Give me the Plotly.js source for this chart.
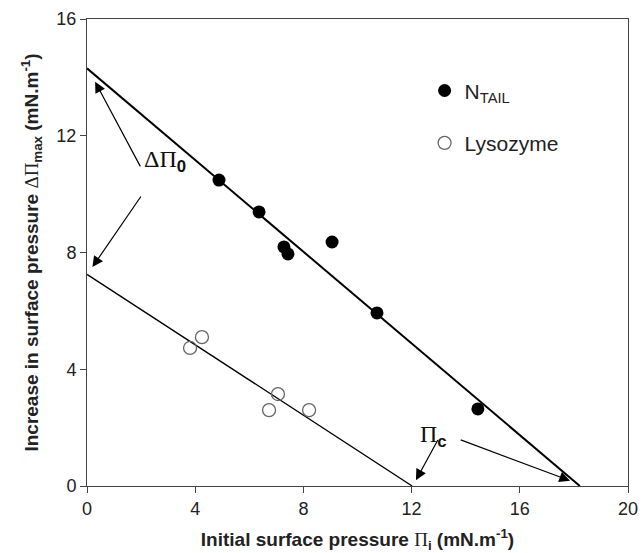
<!DOCTYPE html>
<html><head><meta charset="utf-8">
<script src="https://cdn.plot.ly/plotly-3.0.1.min.js"></script>
<style>body{margin:0;background:#fff}#c{width:642px;height:553px}</style>
</head><body><div id="c"></div>
<script>
// N_TAIL data
const ntailX = [4.88, 6.36, 7.28, 7.43, 9.06, 10.72, 14.45];
const ntailY = [10.48, 9.39, 8.19, 7.95, 8.36, 5.93, 2.64];
// Lysozyme data
const lysoX = [3.81, 4.25, 7.06, 6.73, 8.21];
const lysoY = [4.73, 5.10, 3.15, 2.60, 2.60];
// Fitted lines (endpoints: intercepts)
const ntailFitX = [0, 18.22];
const ntailFitY = [14.31, 0];
const lysoFitX = [0, 12.02];
const lysoFitY = [7.25, 0];
const xTicks = [0, 4, 8, 12, 16, 20];
const yTicks = [0, 4, 8, 12, 16];

const serif = 'Liberation Serif, Times New Roman, serif';
const sans = 'Liberation Sans, Arial, sans-serif';

const traces = [
  {x: ntailFitX, y: ntailFitY, mode: 'lines', line: {color: '#000', width: 2}, showlegend: false, hoverinfo: 'skip'},
  {x: lysoFitX, y: lysoFitY, mode: 'lines', line: {color: '#000', width: 1.3}, showlegend: false, hoverinfo: 'skip'},
  {x: ntailX, y: ntailY, mode: 'markers', name: 'N<sub>TAIL</sub>', legendgroup: 'a',
   marker: {symbol: 'circle', size: 13, color: '#000', line: {color: '#000', width: 0}}},
  {x: lysoX, y: lysoY, mode: 'markers', name: 'Lysozyme', legendgroup: 'b',
   marker: {symbol: 'circle-open', size: 13, color: '#666', line: {color: '#666', width: 1.3}}}
];

function arrow(x, y, ax, ay) {
  return {x: x, y: y, ax: ax, ay: ay, xref: 'x', yref: 'y', axref: 'x', ayref: 'y',
    showarrow: true, arrowhead: 2, arrowsize: 1.8, arrowwidth: 1.2, arrowcolor: '#000', text: ''};
}

const layout = {
  width: 642, height: 553,
  margin: {l: 87, r: 14, t: 19, b: 67},
  paper_bgcolor: '#fff', plot_bgcolor: '#fff',
  font: {family: sans, color: '#222', size: 17},
  showlegend: true,
  legend: {x: 0.624, y: 0.89, xanchor: 'left', yanchor: 'top', traceorder: 'grouped', tracegroupgap: 22,
    font: {family: sans, size: 21, color: '#222'}, bgcolor: 'rgba(0,0,0,0)', itemwidth: 30},
  xaxis: {range: [0, 20], tickvals: xTicks, ticks: 'outside', ticklen: 6, tickcolor: '#444',
    showline: true, linecolor: '#444', linewidth: 1, mirror: true, showgrid: false, zeroline: false,
    tickfont: {family: sans, size: 18, color: '#222'},
    title: {text: '<b>Initial surface pressure </b><span style="font-family:Liberation Serif">Π</span><sub><b>i</b></sub><b> (mN.m<sup>-1</sup>)</b>',
      font: {family: sans, size: 19, color: '#222'}, standoff: 16}},
  yaxis: {range: [0, 16], tickvals: yTicks, ticks: 'outside', ticklen: 6, tickcolor: '#444',
    showline: true, linecolor: '#444', linewidth: 1, mirror: true, showgrid: false, zeroline: false,
    tickfont: {family: sans, size: 18, color: '#222'},
    title: {text: '<b>Increase in surface pressure </b><span style="font-family:Liberation Serif">ΔΠ</span><sub><b>max</b></sub><b> (mN.m<sup>-1</sup>)</b>',
      font: {family: sans, size: 19, color: '#222'}, standoff: 12}},
  annotations: [
    {x: 2.88, y: 11.15, xref: 'x', yref: 'y', text: 'ΔΠ<sub><span style="font-family:Liberation Sans"><b>0</b></span></sub>', showarrow: false,
     font: {family: serif, size: 24, color: '#111'}},
    arrow(0.3, 13.85, 2.0, 10.9),
    arrow(0.2, 7.5, 2.03, 9.97),
    {x: 12.8, y: 1.72, xref: 'x', yref: 'y', text: 'Π<sub><span style="font-family:Liberation Sans"><b>c</b></span></sub>', showarrow: false,
     font: {family: serif, size: 24, color: '#111'}},
    arrow(12.16, 0.2, 13.0, 1.63),
    arrow(17.86, 0.18, 13.76, 1.6)
  ]
};

Plotly.newPlot('c', traces, layout, {displayModeBar: false, staticPlot: true});
</script>
</body></html>
